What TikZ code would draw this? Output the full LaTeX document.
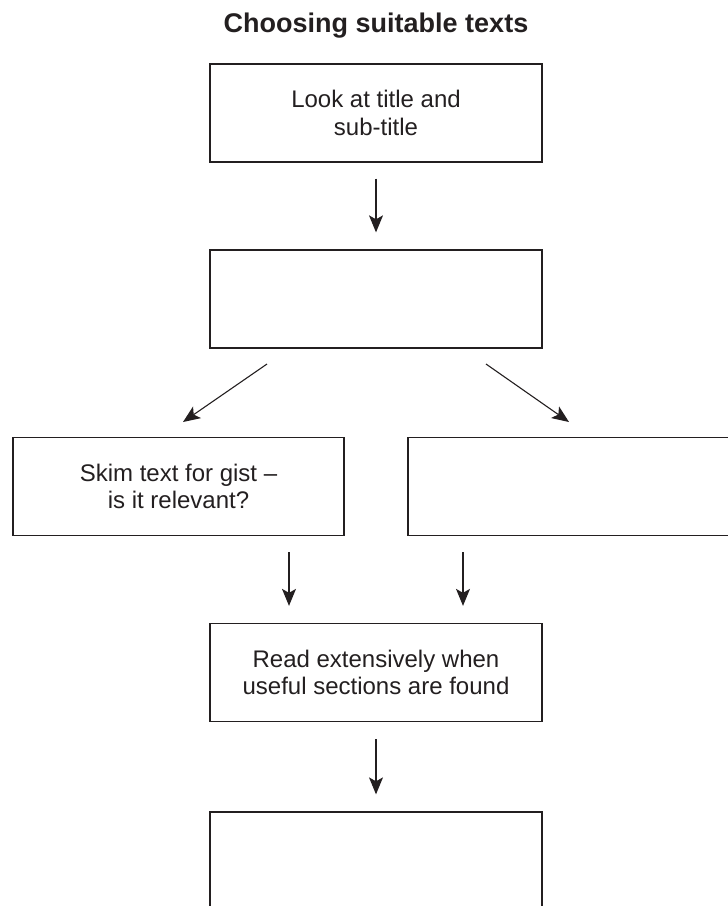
\documentclass[tikz,border=0pt]{standalone}
\usepackage{fontspec}
\setmainfont{Liberation Sans}
\usetikzlibrary{arrows.meta}
\definecolor{ink}{HTML}{231F20}
\begin{document}
\begin{tikzpicture}[x=1pt,y=-1pt,
  stepbox/.style={draw=ink, line width=1.3pt, minimum width=332pt, minimum height=98pt,
    inner sep=0pt, align=center, text=ink, font=\fontsize{24}{27.5}\selectfont},
  flow/.style={draw=ink, line width=1.1pt, -{Stealth[length=17pt,width=14pt,inset=4pt]}}]
\useasboundingbox (0,0) rectangle (728,906);
\clip (0,0) rectangle (728,906);
\node[text=ink, font=\fontsize{27}{30}\selectfont\bfseries] (title) at (376,26) {Choosing suitable texts};
\node[stepbox] (b1) at (376,113) {Look at title and\\sub-title};
\node[stepbox] (b2) at (376,299) {};
\node[stepbox, minimum width=331pt] (b3) at (178.5,486.5) {Skim text for gist --\\is it relevant?};
\node[stepbox, minimum width=331pt] (b4) at (573.5,486.5) {};
\node[stepbox] (b5) at (376,672.5) {Read extensively when\\useful sections are found};
\node[stepbox] (b6) at (376,861) {};
\coordinate (d1s) at (267,364);
\coordinate (d1e) at (183,422);
\coordinate (d2s) at (486,364);
\coordinate (d2e) at (569,422);
\draw[flow, shorten <=16pt, shorten >=17pt] (b1.south) -- (b2.north);
\draw[flow] (d1s) -- (d1e);
\draw[flow] (d2s) -- (d2e);
\draw[flow, shorten <=16pt, shorten >=17pt] (b3.south -| 289,0) -- (b5.north -| 289,0);
\draw[flow, shorten <=16pt, shorten >=17pt] (b4.south -| 463,0) -- (b5.north -| 463,0);
\draw[flow, shorten <=17pt, shorten >=17pt] (b5.south) -- (b6.north);
\end{tikzpicture}
\end{document}
